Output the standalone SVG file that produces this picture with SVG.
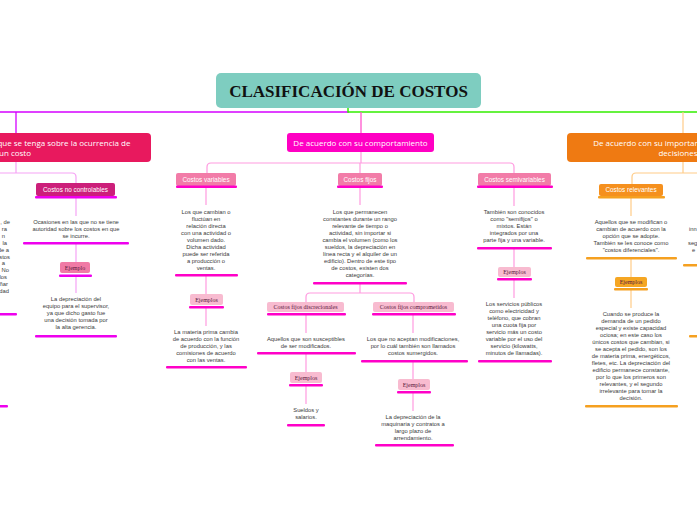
<svg xmlns="http://www.w3.org/2000/svg" width="697" height="520" viewBox="0 0 697 520">
<style>
.t{font-family:"Liberation Sans",Arial,sans-serif;font-size:5.8px;fill:#3a3a3a;text-anchor:middle}
.lbl{font-family:"Liberation Sans",Arial,sans-serif;font-size:6.4px;fill:#fff;text-anchor:middle}
.ej{font-family:"Liberation Serif","Times New Roman",serif;font-size:6px;fill:#5a1a3c;text-anchor:middle}
.main{font-family:"Open Sans","Liberation Sans",sans-serif;font-size:8px;fill:#fff;text-anchor:middle}
.cp{fill:none;stroke:#ff9be0;stroke-width:1.2}
.cl{fill:none;stroke:#f5a3f5;stroke-width:1.2}
.co{fill:none;stroke:#ffcc88;stroke-width:1.2}
.bm{fill:#ff00c8}
.bv{fill:#ee00ee}
.bo{fill:#f5a020}
</style>
<rect width="697" height="520" fill="#fff"/>
<g id="connectors">
<path d="M0,112 H349" fill="none" stroke="#d400ff" stroke-width="1.5"/>
<path d="M16,112 V133" fill="none" stroke="#d400ff" stroke-width="1.3"/>
<path d="M348,108 V112 H697" fill="none" stroke="#33ee00" stroke-width="1.5"/>
<path d="M361,112 V133" fill="none" stroke="#ff55cc" stroke-width="1.3"/>
<path d="M683,112 V133" class="co"/>
<path d="M361,152 V163 M207,173 V167 Q207,163 211,163 H510 Q514,163 514,167 V173 M360,163 V173" class="cp"/>
<path d="M206,188 V205 M206,276 V294 M206,308 V326" class="cp"/>
<path d="M360,188 V205 M360,284 V293 M306,302 V297 Q306,293 310,293 H410 Q414,293 414,297 V302" class="cp"/>
<path d="M306,315 V333 M306,354 V372 M306,386 V404" class="cp"/>
<path d="M413,315 V333 M413,362 V379 M413,393 V411" class="cp"/>
<path d="M514,188 V206 M514,249 V267 M514,280 V298" class="cp"/>
<path d="M16,162 V173 M0,173 H72 Q76,173 76,177 V183 M76,198 V216 M76,244 V262 M76,277 V293" class="cl"/>
<path d="M683,162 V173 M697,173 H636 Q632,173 632,177 V184 M631,198 V216 M631,259 V277 M631,290 V308" class="co"/>
</g>
<g id="title">
<rect x="216" y="73" width="265" height="35" rx="5" fill="#7ecdc0"/>
<text x="348.5" y="97" font-family="Liberation Serif,'Times New Roman',serif" font-weight="bold" font-size="17" fill="#111" text-anchor="middle">CLASIFICACIÓN DE COSTOS</text>
</g>
<g id="n-control">
<rect x="-121" y="133" width="272" height="29" rx="4" fill="#e8195e"/>
<text class="main" x="15" y="145.5">De acuerdo con el control que se tenga sobre la ocurrencia de</text>
<text class="main" x="15" y="156">un costo</text>
</g>
<g id="n-comportamiento">
<rect x="287" y="133" width="147" height="19" rx="3" fill="#ff00c3"/>
<text class="main" x="360.5" y="145.5">De acuerdo con su comportamiento</text>
</g>
<g id="n-decisiones">
<rect x="567" y="133" width="222" height="29" rx="4" fill="#ef7a12"/>
<text class="main" x="678" y="145.5">De acuerdo con su importancia en la toma de</text>
<text class="main" x="678" y="156">decisiones</text>
</g>
<g id="n-left-offscreen">
<text class="t" x="10" y="224" style="text-anchor:end">, de</text>
<text class="t" x="7" y="231" style="text-anchor:end">ra</text>
<text class="t" x="5" y="238" style="text-anchor:end">n</text>
<text class="t" x="7" y="245" style="text-anchor:end">la</text>
<text class="t" x="9" y="252" style="text-anchor:end">de a</text>
<text class="t" x="10" y="259" style="text-anchor:end">stos</text>
<text class="t" x="5" y="265" style="text-anchor:end">a</text>
<text class="t" x="9" y="272" style="text-anchor:end">. No</text>
<text class="t" x="7" y="279" style="text-anchor:end">los</text>
<text class="t" x="8" y="286" style="text-anchor:end">ñar</text>
<text class="t" x="9" y="293" style="text-anchor:end">dad</text>
<rect class="bv" x="-10" y="313" width="27" height="2.5" rx="1"/>
<rect class="bv" x="-10" y="405" width="18" height="2.5" rx="1"/>
</g>
<g id="n-no-controlables">
<rect x="36" y="183" width="79" height="13" rx="2" fill="#cc1f7a"/>
<text class="lbl" x="75.5" y="191.8">Costos no controlables</text>
<rect class="bv" x="35" y="196" width="82" height="2.5" rx="1"/>
<text class="t" x="76" y="224">Ocasiones en las que no se tiene</text>
<text class="t" x="76" y="231">autoridad sobre los costos en que</text>
<text class="t" x="76" y="238">se incurre.</text>
<rect class="bv" x="23" y="242" width="106" height="2.5" rx="1"/>
</g>
<g id="n-ejemplo-left">
<rect x="60" y="262" width="30" height="11" rx="2" fill="#f07aa5"/>
<text class="ej" x="75" y="269.5">Ejemplo</text>
<rect class="bv" x="59" y="274.5" width="33" height="2.5" rx="1"/>
<text class="t" x="76" y="301">La depreciación del</text>
<text class="t" x="76" y="308">equipo para el supervisor,</text>
<text class="t" x="76" y="315">ya que dicho gasto fue</text>
<text class="t" x="76" y="322">una decisión tomada por</text>
<text class="t" x="76" y="329">la alta gerencia.</text>
<rect class="bv" x="35" y="335" width="82" height="2.5" rx="1"/>
</g>
<g id="n-variables">
<rect x="176" y="173" width="60" height="13" rx="2" fill="#f27ca8"/>
<text class="lbl" x="206" y="181.8">Costos variables</text>
<rect class="bm" x="176" y="185.5" width="61" height="2.5" rx="1"/>
<text class="t" x="206" y="214">Los que cambian o</text>
<text class="t" x="206" y="221">fluctúan en</text>
<text class="t" x="206" y="228">relación directa</text>
<text class="t" x="206" y="235">con una actividad o</text>
<text class="t" x="206" y="242">volumen dado.</text>
<text class="t" x="206" y="249">Dicha actividad</text>
<text class="t" x="206" y="256">puede ser referida</text>
<text class="t" x="206" y="263">a producción o</text>
<text class="t" x="206" y="270">ventas.</text>
<rect class="bm" x="175" y="274" width="63" height="2.5" rx="1"/>
</g>
<g id="n-ejemplos-variables">
<rect x="190" y="294" width="33" height="11" rx="2" fill="#f8bbd0"/>
<text class="ej" x="206.5" y="301.5">Ejemplos</text>
<rect class="bm" x="189" y="306" width="35" height="2.5" rx="1"/>
<text class="t" x="206" y="334">La materia prima cambia</text>
<text class="t" x="206" y="341">de acuerdo con la función</text>
<text class="t" x="206" y="348">de producción, y las</text>
<text class="t" x="206" y="355">comisiones de acuerdo</text>
<text class="t" x="206" y="362">con las ventas.</text>
<rect class="bm" x="166" y="366" width="81" height="2.5" rx="1"/>
</g>
<g id="n-fijos">
<rect x="338" y="173" width="44" height="13" rx="2" fill="#f27ca8"/>
<text class="lbl" x="360" y="181.8">Costos fijos</text>
<rect class="bm" x="337" y="185.5" width="46" height="2.5" rx="1"/>
<text class="t" x="360" y="214">Los que permanecen</text>
<text class="t" x="360" y="221">constantes durante un rango</text>
<text class="t" x="360" y="228">relevante de tiempo o</text>
<text class="t" x="360" y="235">actividad, sin importar si</text>
<text class="t" x="360" y="242">cambia el volumen (como los</text>
<text class="t" x="360" y="249">sueldos, la depreciación en</text>
<text class="t" x="360" y="256">línea recta y el alquiler de un</text>
<text class="t" x="360" y="263">edificio). Dentro de este tipo</text>
<text class="t" x="360" y="270">de costos, existen dos</text>
<text class="t" x="360" y="277">categorías.</text>
<rect class="bm" x="313" y="282" width="94" height="2.5" rx="1"/>
</g>
<g id="n-discrecionales">
<rect x="267" y="302" width="77" height="10" rx="2" fill="#f8bbd0"/>
<text class="ej" x="305.5" y="309">Costos fijos discrecionales</text>
<rect class="bm" x="267" y="313" width="79" height="2.5" rx="1"/>
<text class="t" x="306" y="341">Aquellos que son susceptibles</text>
<text class="t" x="306" y="348">de ser modificados.</text>
<rect class="bm" x="257" y="352" width="99" height="2.5" rx="1"/>
</g>
<g id="n-ejemplos-discrecionales">
<rect x="290" y="372" width="32" height="11" rx="2" fill="#f8bbd0"/>
<text class="ej" x="306" y="379.5">Ejemplos</text>
<rect class="bm" x="289" y="384" width="34" height="2.5" rx="1"/>
<text class="t" x="306" y="412">Sueldos y</text>
<text class="t" x="306" y="419">salarios.</text>
<rect class="bm" x="287" y="424" width="38" height="2.5" rx="1"/>
</g>
<g id="n-comprometidos">
<rect x="373" y="302" width="81" height="10" rx="2" fill="#f8bbd0"/>
<text class="ej" x="413.5" y="309">Costos fijos comprometidos</text>
<rect class="bm" x="372" y="313" width="84" height="2.5" rx="1"/>
<text class="t" x="413" y="341">Los que no aceptan modificaciones,</text>
<text class="t" x="413" y="348">por lo cuál también son llamados</text>
<text class="t" x="413" y="355">costos sumergidos.</text>
<rect class="bm" x="361" y="360" width="107" height="2.5" rx="1"/>
</g>
<g id="n-ejemplos-comprometidos">
<rect x="398" y="379" width="32" height="11" rx="2" fill="#f8bbd0"/>
<text class="ej" x="414" y="386.5">Ejemplos</text>
<rect class="bm" x="397" y="391" width="34" height="2.5" rx="1"/>
<text class="t" x="413" y="419">La depreciación de la</text>
<text class="t" x="413" y="426">maquinaria y contratos a</text>
<text class="t" x="413" y="433">largo plazo de</text>
<text class="t" x="413" y="440">arrendamiento.</text>
<rect class="bm" x="375" y="444" width="79" height="2.5" rx="1"/>
</g>
<g id="n-semivariables">
<rect x="478" y="173" width="73" height="13" rx="2" fill="#f27ca8"/>
<text class="lbl" x="514.5" y="181.8">Costos semivariables</text>
<rect class="bm" x="477" y="185.5" width="76" height="2.5" rx="1"/>
<text class="t" x="514" y="214">También son conocidos</text>
<text class="t" x="514" y="221">como "semifijos" o</text>
<text class="t" x="514" y="228">mixtos. Están</text>
<text class="t" x="514" y="235">integrados por una</text>
<text class="t" x="514" y="242">parte fija y una variable.</text>
<rect class="bm" x="477" y="247" width="75" height="2.5" rx="1"/>
</g>
<g id="n-ejemplos-semivariables">
<rect x="498" y="267" width="33" height="10" rx="2" fill="#f8bbd0"/>
<text class="ej" x="514.5" y="274">Ejemplos</text>
<rect class="bm" x="497" y="278" width="35" height="2.5" rx="1"/>
<text class="t" x="514" y="306">Los servicios públicos</text>
<text class="t" x="514" y="313">como electricidad y</text>
<text class="t" x="514" y="320">teléfono, que cobran</text>
<text class="t" x="514" y="327">una cuota fija por</text>
<text class="t" x="514" y="334">servicio más un costo</text>
<text class="t" x="514" y="341">variable por el uso del</text>
<text class="t" x="514" y="348">servicio (kilowatts,</text>
<text class="t" x="514" y="355">minutos de llamadas).</text>
<rect class="bm" x="478" y="360" width="74" height="2.5" rx="1"/>
</g>
<g id="n-relevantes">
<rect x="599" y="184" width="64" height="12" rx="2" fill="#f5901e"/>
<text class="lbl" x="631" y="192.3">Costos relevantes</text>
<rect class="bo" x="598" y="196" width="67" height="2.5" rx="1"/>
<text class="t" x="631" y="224">Aquellos que se modifican o</text>
<text class="t" x="631" y="231">cambian de acuerdo con la</text>
<text class="t" x="631" y="238">opción que se adopte.</text>
<text class="t" x="631" y="245">También se les conoce como</text>
<text class="t" x="631" y="252">"costos diferenciales".</text>
<rect class="bo" x="586" y="257" width="91" height="2.5" rx="1"/>
</g>
<g id="n-ejemplos-relevantes">
<rect x="615" y="277" width="32" height="10" rx="2" fill="#f5a623"/>
<text class="ej" x="631" y="284">Ejemplos</text>
<rect class="bo" x="614" y="288" width="34" height="2.5" rx="1"/>
<text class="t" x="631" y="316">Cuando se produce la</text>
<text class="t" x="631" y="323">demanda de un pedido</text>
<text class="t" x="631" y="330">especial y existe capacidad</text>
<text class="t" x="631" y="337">ociosa; en este caso los</text>
<text class="t" x="631" y="344">únicos costos que cambian, si</text>
<text class="t" x="631" y="351">se acepta el pedido, son los</text>
<text class="t" x="631" y="358">de materia prima, energéticos,</text>
<text class="t" x="631" y="365">fletes, etc. La depreciación del</text>
<text class="t" x="631" y="372">edificio permanece constante,</text>
<text class="t" x="631" y="379">por lo que los primeros son</text>
<text class="t" x="631" y="386">relevantes, y el segundo</text>
<text class="t" x="631" y="393">irrelevante para tomar la</text>
<text class="t" x="631" y="400">decisión.</text>
<rect class="bo" x="585" y="405" width="93" height="2.5" rx="1"/>
</g>
<g id="n-right-offscreen">
<text class="t" x="689" y="231" style="text-anchor:start">inn</text>
<text class="t" x="688" y="245" style="text-anchor:start">seg</text>
<text class="t" x="692" y="252" style="text-anchor:start">e</text>
<rect class="bo" x="683" y="264" width="20" height="2.5" rx="1"/>
<rect class="bo" x="689" y="335" width="14" height="2.5" rx="1"/>
</g>
</svg>
